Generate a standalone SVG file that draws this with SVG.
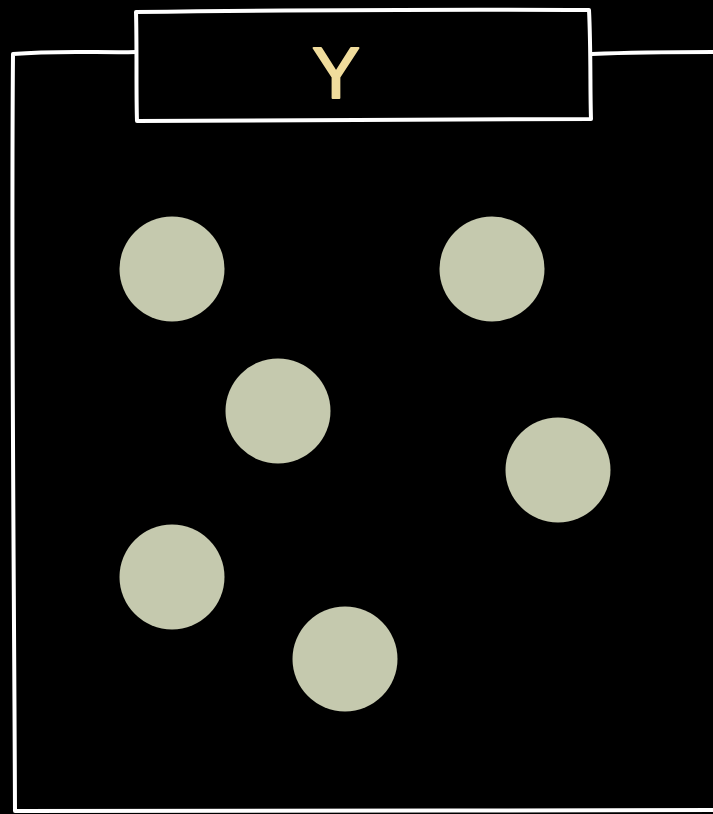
<svg xmlns="http://www.w3.org/2000/svg" width="713" height="814" viewBox="0 0 713 814">
<style>
.frame{fill:none;stroke:#ffffff;stroke-width:4;stroke-linejoin:round;stroke-linecap:round}
.dot{fill:#c5c9ae}
.lbl{font-family:"Liberation Sans",Arial,sans-serif;font-size:72px;fill:#f0dc9c;stroke:#f0dc9c;stroke-width:2;stroke-linejoin:round;text-anchor:middle}
</style>
<rect x="0" y="0" width="713" height="814" fill="#000000"/>
<g id="outer">
<path class="frame" d="M136 52 C100 53 60 50 13 54 C11 300 14 560 15 811 C250 812 480 810 713 810 M592 54 C640 52 680 52 713 52"/>
</g>
<g id="title">
<path class="frame" d="M136 12 C300 10 450 9 589 10 C591 50 590 90 591 119 C450 121 300 120 137 121 C136 90 137 50 136 12 Z"/>
<text class="lbl" x="336" y="98">Y</text>
</g>
<g id="n1"><circle class="dot" cx="172" cy="269" r="52.5"/></g>
<g id="n2"><circle class="dot" cx="492" cy="269" r="52.5"/></g>
<g id="n3"><circle class="dot" cx="278" cy="411" r="52.5"/></g>
<g id="n4"><circle class="dot" cx="558" cy="470" r="52.5"/></g>
<g id="n5"><circle class="dot" cx="172" cy="577" r="52.5"/></g>
<g id="n6"><circle class="dot" cx="345" cy="659" r="52.5"/></g>
<g id="connectors"></g>
</svg>
